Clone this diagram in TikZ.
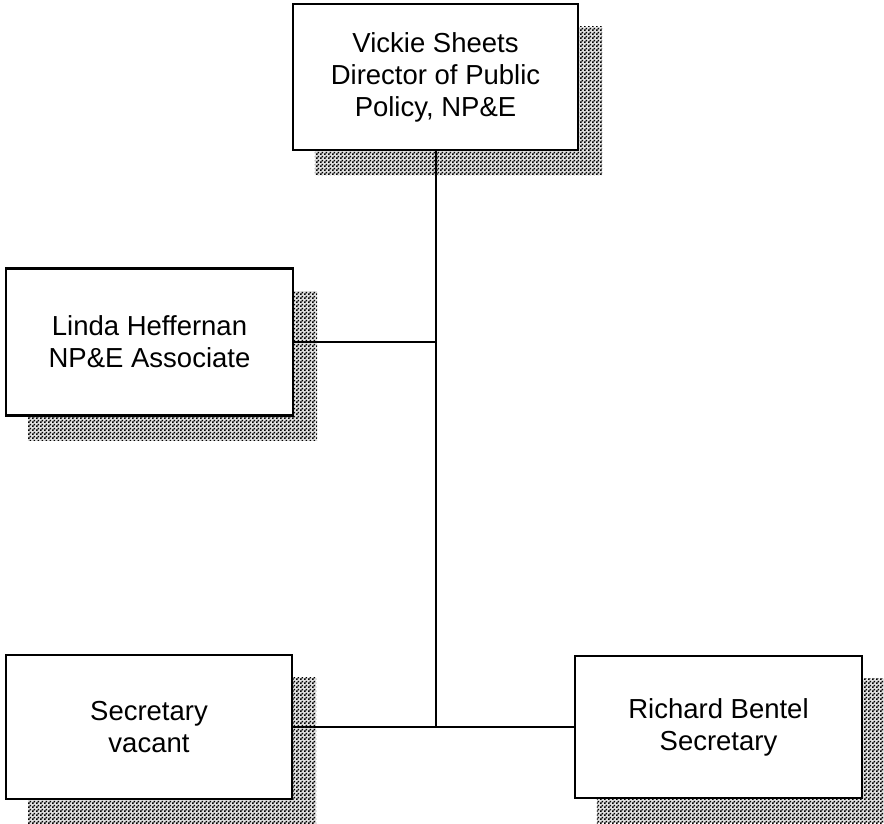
\documentclass[tikz,border=0pt]{standalone}
\usepackage{fontspec}
\setmainfont{Liberation Sans}
\usetikzlibrary{patterns,backgrounds}

% fine checkerboard used for the drop shadows
\pgfdeclarepatternformonly{dither}{\pgfpointorigin}{\pgfpoint{4pt}{4pt}}{\pgfpoint{4pt}{4pt}}{%
  \pgfpathrectangle{\pgfpointorigin}{\pgfpoint{2pt}{2pt}}%
  \pgfpathrectangle{\pgfpoint{2pt}{2pt}}{\pgfpoint{2pt}{2pt}}%
  \pgfusepath{fill}}

\begin{document}
\begin{tikzpicture}[x=1pt,y=-1pt,
  person/.style={draw=black, line width=2.2pt, fill=white, rectangle,
    align=center, inner sep=0pt,
    font=\fontsize{27.5}{32}\selectfont},
  shadow/.style={fill=black!12, postaction={pattern=dither, pattern color=black}},
  link/.style={draw=black, line width=2pt}]
  \useasboundingbox (0,0) rectangle (884,823);

  % boxes
  \node[person, minimum width=285pt, minimum height=146pt] (top) at (435.5,77)
    {Vickie Sheets\\Director of Public\\Policy, NP\&E};
  \node[person, minimum width=287pt, minimum height=147pt] (lin) at (149.5,342)
    {Linda Heffernan\\NP\&E Associate};
  \node[person, minimum width=286pt, minimum height=144pt] (vac) at (149,727)
    {Secretary\\vacant};
  \node[person, minimum width=287pt, minimum height=142pt] (ric) at (718.5,727)
    {Richard Bentel\\Secretary};

  % drop shadows behind the boxes
  \begin{scope}[on background layer]
    \foreach \n in {top,lin,vac,ric}{
      \path[shadow]
        ([shift={(23,24)}]\n.north west) rectangle ([shift={(23,24)}]\n.south east);
    }
  \end{scope}

  % connectors
  \coordinate (j1) at (top.south |- lin.east);
  \coordinate (j2) at (top.south |- vac.east);
  \draw[link] (top.south) -- (j2);
  \draw[link] (lin.east) -- (j1);
  \draw[link] (vac.east) -- (ric.west);
\end{tikzpicture}
\end{document}
